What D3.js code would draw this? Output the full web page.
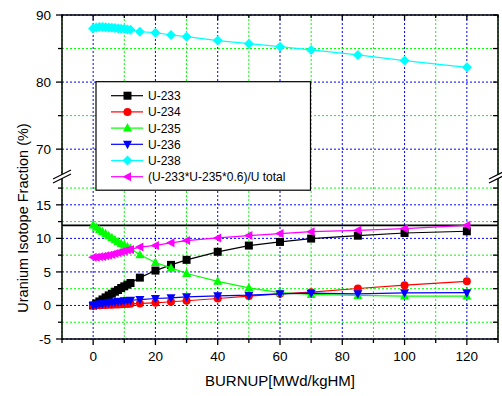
<!DOCTYPE html>
<html>
<head>
<meta charset="utf-8">
<script src="https://cdn.jsdelivr.net/npm/d3@7"></script>
<style>
  body { margin: 0; background: #fff; }
  text { font-family: "Liberation Sans", Arial, sans-serif; }
</style>
</head>
<body>
<div id="chart"></div>
<script>
// burnup steps (MWd/kgHM)
var burnup = [0, 1, 2, 3, 4, 5, 6, 7, 8, 9, 10, 11, 12, 15, 20, 25, 30, 40, 50, 60, 70, 85, 100, 120];

// isotope fractions (%)
var u233 = [0, 0.3, 0.6, 0.9, 1.2, 1.5, 1.75, 2.05, 2.3, 2.6, 2.85, 3.1, 3.35, 4.15, 5.2, 6.05, 6.8, 8.0, 8.93, 9.47, 9.97, 10.4, 10.8, 11.06];
var u234 = [0, 0.02, 0.04, 0.06, 0.08, 0.1, 0.12, 0.14, 0.16, 0.18, 0.2, 0.22, 0.24, 0.3, 0.4, 0.55, 0.7, 1.04, 1.4, 1.74, 1.98, 2.53, 3.02, 3.6];
var u235 = [12.0, 11.65, 11.3, 11.0, 10.7, 10.4, 10.1, 9.8, 9.5, 9.25, 9.0, 8.75, 8.5, 7.55, 6.4, 5.6, 4.76, 3.6, 2.63, 1.9, 1.64, 1.49, 1.4, 1.4];
var u236 = [0, 0.1, 0.2, 0.27, 0.34, 0.41, 0.47, 0.53, 0.59, 0.64, 0.69, 0.74, 0.78, 0.88, 1.04, 1.14, 1.29, 1.44, 1.53, 1.74, 1.83, 1.74, 1.89, 1.9];
var u238 = [88.0, 88.15, 88.2, 88.2, 88.18, 88.15, 88.1, 88.05, 88.0, 87.95, 87.9, 87.85, 87.8, 87.5, 87.37, 87.02, 86.77, 86.18, 85.73, 85.28, 84.79, 84.05, 83.2, 82.2];
var ratio = [7.2, 7.2, 7.25, 7.3, 7.4, 7.5, 7.6, 7.75, 7.85, 8.0, 8.1, 8.25, 8.35, 8.7, 8.95, 9.33, 9.67, 10.07, 10.42, 10.71, 11.0, 11.2, 11.46, 11.95];

var seriesNames = ["U-233", "U-234", "U-235", "U-236", "U-238", "(U-233*U-235*0.6)/U total"];
var seriesValues = [u233, u234, u235, u236, u238, ratio];
var seriesColors = ["#000000", "#ff0000", "#00ff00", "#0000ff", "#00ffff", "#ff00ff"];
var seriesSymbols = ["square", "circle", "triUp", "triDown", "diamond", "triLeft"];

var xMajor = [0, 20, 40, 60, 80, 100, 120];
var xMinor = [-10, 10, 30, 50, 70, 90, 110, 130];
var yMajor = [-5, 0, 5, 10, 15, 70, 80, 90];
var yMinor = [-2.5, 2.5, 7.5, 12.5, 17.5, 75, 85];
var refLine = 11.95;
var yBreakLow = 19.3, yBreakHigh = 66;

var W = 502, H = 396;
var margin = { top: 15, right: 4, bottom: 57, left: 62 },
  width = W - margin.left - margin.right,
  height = H - margin.top - margin.bottom;

var svg = d3.select("#chart").append("svg")
  .attr("width", W).attr("height", H)
  .append("g")
  .attr("transform", "translate(" + margin.left + "," + margin.top + ")");

var x = d3.scaleLinear().domain([-10, 130]).range([0, width]);
var breakY = height - (yBreakLow + 5) * (height / (yBreakLow + 5 + 90 - yBreakHigh));
var y = d3.scaleLinear()
  .domain([-5, yBreakLow, yBreakHigh, 90])
  .range([height, breakY, breakY, 0]);

// grid
var grid = svg.append("g");
xMinor.forEach(function (v) {
  grid.append("line").attr("x1", x(v)).attr("x2", x(v)).attr("y1", 0).attr("y2", height)
    .attr("stroke", "#00ff00").attr("stroke-dasharray", "2,2").attr("stroke-width", 1);
});
xMajor.forEach(function (v) {
  grid.append("line").attr("x1", x(v)).attr("x2", x(v)).attr("y1", 0).attr("y2", height)
    .attr("stroke", "#0000ff").attr("stroke-dasharray", "2,2").attr("stroke-width", 1);
});
yMinor.forEach(function (v) {
  grid.append("line").attr("x1", 0).attr("x2", width).attr("y1", y(v)).attr("y2", y(v))
    .attr("stroke", "#00ff00").attr("stroke-dasharray", "2,2").attr("stroke-width", 1);
});
yMajor.forEach(function (v) {
  grid.append("line").attr("x1", 0).attr("x2", width).attr("y1", y(v)).attr("y2", y(v))
    .attr("stroke", "#0000ff").attr("stroke-dasharray", "2,2").attr("stroke-width", 1);
});

// reference line
svg.append("line").attr("x1", 0).attr("x2", width).attr("y1", y(refLine)).attr("y2", y(refLine))
  .attr("stroke", "#000").attr("stroke-width", 1.8);

// symbols
function symbolPath(kind, s) {
  var h = s / 2;
  if (kind === "square") return "M" + -h + "," + -h + "H" + h + "V" + h + "H" + -h + "Z";
  if (kind === "circle") return "M" + -h + ",0A" + h + "," + h + " 0 1,0 " + h + ",0A" + h + "," + h + " 0 1,0 " + -h + ",0Z";
  if (kind === "triUp") return "M0," + (-h - 1) + "L" + (h + 0.5) + "," + (h - 0.5) + "L" + (-h - 0.5) + "," + (h - 0.5) + "Z";
  if (kind === "triDown") return "M0," + (h + 1) + "L" + (h + 0.5) + "," + (-h + 0.5) + "L" + (-h - 0.5) + "," + (-h + 0.5) + "Z";
  if (kind === "triLeft") return "M" + (-h - 1) + ",0L" + (h - 0.5) + "," + (-h - 0.5) + "L" + (h - 0.5) + "," + (h + 0.5) + "Z";
  if (kind === "diamond") return "M0," + (-h - 1) + "L" + (h + 1) + ",0L0," + (h + 1) + "L" + (-h - 1) + ",0Z";
}

var line = d3.line().x(function (d) { return x(d[0]); }).y(function (d) { return y(d[1]); });

seriesValues.forEach(function (vals, i) {
  var pts = burnup.map(function (b, j) { return [b, vals[j]]; });
  var g = svg.append("g");
  g.append("path").datum(pts).attr("d", line)
    .attr("fill", "none").attr("stroke", seriesColors[i]).attr("stroke-width", 1.2);
  g.selectAll("path.pt").data(pts).enter().append("path")
    .attr("class", "pt")
    .attr("transform", function (d) { return "translate(" + x(d[0]) + "," + y(d[1]) + ")"; })
    .attr("d", symbolPath(seriesSymbols[i], 8))
    .attr("fill", seriesColors[i]);
});

// frame
svg.append("rect").attr("width", width).attr("height", height)
  .attr("fill", "none").attr("stroke", "#000").attr("stroke-width", 1.5);

// ticks
var ticks = svg.append("g").attr("stroke", "#000").attr("stroke-width", 1.3);
xMajor.concat(xMinor).forEach(function (v) {
  var major = xMajor.indexOf(v) >= 0;
  ticks.append("line").attr("x1", x(v)).attr("x2", x(v)).attr("y1", height).attr("y2", height + (major ? 6 : 4));
  ticks.append("line").attr("x1", x(v)).attr("x2", x(v)).attr("y1", 0).attr("y2", major ? 5 : 3);
});
yMajor.concat(yMinor).forEach(function (v) {
  var major = yMajor.indexOf(v) >= 0;
  ticks.append("line").attr("x1", 0).attr("x2", major ? -6 : -4).attr("y1", y(v)).attr("y2", y(v));
  ticks.append("line").attr("x1", width).attr("x2", width - 5).attr("y1", y(v)).attr("y2", y(v));
});

// tick labels
svg.append("g").selectAll("text").data(xMajor).enter().append("text")
  .attr("x", function (d) { return x(d); }).attr("y", height + 22)
  .attr("text-anchor", "middle").style("font-size", "13.5px").text(function (d) { return d; });
svg.append("g").selectAll("text").data(yMajor).enter().append("text")
  .attr("x", -11).attr("y", function (d) { return y(d) + 5; })
  .attr("text-anchor", "end").style("font-size", "13.5px").text(function (d) { return d; });

// axis break marks
[0, width].forEach(function (bx) {
  var g = svg.append("g").attr("transform", "translate(" + bx + "," + breakY + ")");
  g.append("path").attr("d", "M-9,3L9,-6L9,-2L-9,7Z").attr("fill", "#fff");
  g.append("line").attr("x1", -9).attr("y1", 3).attr("x2", 9).attr("y2", -6).attr("stroke", "#000").attr("stroke-width", 1.2);
  g.append("line").attr("x1", -9).attr("y1", 7).attr("x2", 9).attr("y2", -2).attr("stroke", "#000").attr("stroke-width", 1.2);
});

// axis titles
svg.append("text").attr("x", x(60)).attr("y", height + 47)
  .attr("text-anchor", "middle").style("font-size", "15px").text("BURNUP[MWd/kgHM]");
svg.append("text").attr("transform", "rotate(-90)")
  .attr("x", -(218 - margin.top)).attr("y", 28 - margin.left)
  .attr("text-anchor", "middle").style("font-size", "14.5px").text("Uranium Isotope Fraction (%)");

// legend
var lg = svg.append("g").attr("transform", "translate(" + (96 - margin.left) + "," + (81.7 - margin.top) + ")");
lg.append("rect").attr("width", 214.5).attr("height", 108.5)
  .attr("fill", "#fff").attr("stroke", "#000").attr("stroke-width", 1.2);
seriesNames.forEach(function (name, i) {
  var ry = 14 + i * 16.2;
  lg.append("line").attr("x1", 15).attr("x2", 47).attr("y1", ry).attr("y2", ry)
    .attr("stroke", seriesColors[i]).attr("stroke-width", 1.2);
  lg.append("path").attr("transform", "translate(31.5," + ry + ")")
    .attr("d", symbolPath(seriesSymbols[i], 8)).attr("fill", seriesColors[i]);
  lg.append("text").attr("x", 52).attr("y", ry + 4.5).style("font-size", "12px").text(name);
});
</script>
</body>
</html>
